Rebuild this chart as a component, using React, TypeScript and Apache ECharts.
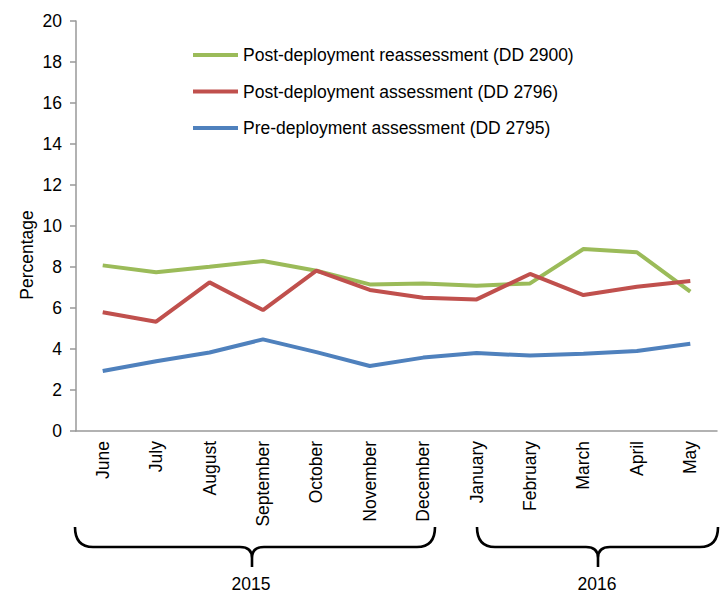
import React, { useEffect, useRef } from "react";
import * as echarts from "echarts";

const months = ["June", "July", "August", "September", "October", "November", "December", "January", "February", "March", "April", "May"];
const reassessment2900 = [8.08, 7.74, 8.01, 8.29, 7.82, 7.15, 7.2, 7.09, 7.2, 8.88, 8.72, 6.8];
const assessment2796 = [5.79, 5.33, 7.25, 5.9, 7.82, 6.88, 6.5, 6.42, 7.66, 6.63, 7.04, 7.32];
const preAssessment2795 = [2.93, 3.4, 3.83, 4.47, 3.85, 3.17, 3.58, 3.8, 3.68, 3.77, 3.9, 4.26];
const seriesNames = [
  "Post-deployment reassessment (DD 2900)",
  "Post-deployment assessment (DD 2796)",
  "Pre-deployment assessment (DD 2795)",
];
const years = ["2015", "2016"];

const FONT = "'Liberation Sans', Arial, sans-serif";
const FS = 17.5;

echarts.graphic.registerShape(
  "brace2015",
  echarts.graphic.extendPath(
    "M75 527 Q75 547 93 547 L240 547 Q252 547 252 558 L252 567 M252 558 Q252 547 264 547 L417 547 Q435 547 435 527",
    {}
  )
);
echarts.graphic.registerShape(
  "brace2016",
  echarts.graphic.extendPath(
    "M477 527 Q477 547 495 547 L586 547 Q598 547 598 558 L598 567 M598 558 Q598 547 610 547 L700 547 Q718 547 718 527",
    {}
  )
);

export default function App() {
  const ref = useRef<HTMLDivElement>(null);
  useEffect(() => {
    if (!ref.current) return;
    const chart = echarts.init(ref.current, undefined, { renderer: "svg" });
    const lineSeries = (name: string, data: number[], color: string) => ({
      name,
      type: "line",
      data,
      symbol: "none",
      smooth: false,
      lineStyle: { color, width: 4 },
      itemStyle: { color },
    });
    chart.setOption({
      animation: false,
      backgroundColor: "#fff",
      textStyle: { fontFamily: FONT },
      grid: { left: 76, right: 9, top: 21, bottom: 166, containLabel: false },
      legend: {
        orient: "vertical",
        left: 188,
        top: 40,
        data: [seriesNames[0], seriesNames[1], seriesNames[2]],
        icon: "rect",
        itemWidth: 45,
        itemHeight: 4,
        itemGap: 16.5,
        itemTextGap: 0,
        textStyle: { fontSize: FS, color: "#000", fontFamily: FONT, lineHeight: 20 },
      },
      xAxis: {
        type: "category",
        data: months,
        boundaryGap: true,
        axisLine: { lineStyle: { color: "#999", width: 1.5 } },
        axisTick: { alignWithLabel: true, length: 4, lineStyle: { color: "#999", width: 1.5 } },
        axisLabel: { rotate: 90, interval: 0, margin: 10, fontSize: FS, color: "#000", fontFamily: FONT },
        splitLine: { show: false },
      },
      yAxis: {
        type: "value",
        min: 0,
        max: 20,
        interval: 2,
        axisLine: { show: true, lineStyle: { color: "#999", width: 1.5 } },
        axisTick: { show: true, length: 6, lineStyle: { color: "#999", width: 1.5 } },
        axisLabel: { margin: 14, fontSize: FS, color: "#000", fontFamily: FONT },
        splitLine: { show: false },
      },
      series: [
        lineSeries(seriesNames[2], preAssessment2795, "#4F81BD"),
        lineSeries(seriesNames[0], reassessment2900, "#9BBB59"),
        lineSeries(seriesNames[1], assessment2796, "#C0504D"),
      ],
      graphic: [
        {
          type: "text",
          x: 27,
          y: 255,
          rotation: Math.PI / 2,
          style: {
            text: "Percentage",
            fontSize: FS,
            fontFamily: FONT,
            fill: "#000",
            align: "center",
            verticalAlign: "middle",
          },
        },
        { type: "brace2015", x: 0, y: 0, style: { stroke: "#000", fill: "none", lineWidth: 2.6 } },
        { type: "brace2016", x: 0, y: 0, style: { stroke: "#000", fill: "none", lineWidth: 2.6 } },
        {
          type: "text",
          x: 251,
          y: 584,
          style: { text: years[0], fontSize: FS, fontFamily: FONT, fill: "#000", align: "center", verticalAlign: "middle" },
        },
        {
          type: "text",
          x: 597,
          y: 584,
          style: { text: years[1], fontSize: FS, fontFamily: FONT, fill: "#000", align: "center", verticalAlign: "middle" },
        },
      ],
    });
    return () => chart.dispose();
  }, []);
  return <div ref={ref} style={{ position: "fixed", left: 0, top: 0, width: 726, height: 597 }} />;
}
